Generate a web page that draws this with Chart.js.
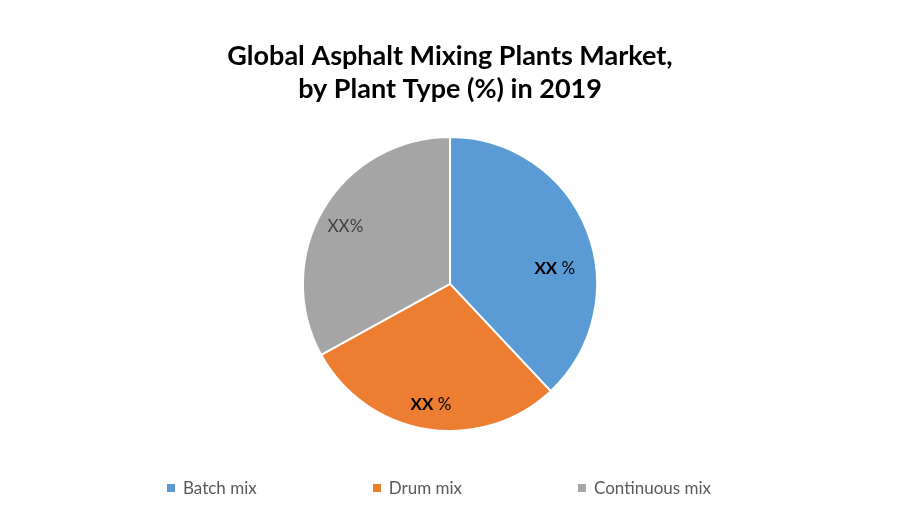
<!DOCTYPE html>
<html>
<head>
<meta charset="utf-8">
<script src="https://cdn.jsdelivr.net/npm/chart.js@4"></script>
<style>
    html, body { margin: 0; padding: 0; background: #ffffff; }
    #wrap { position: relative; width: 900px; height: 525px; }
    #legend {
        position: absolute; left: -11px; top: 477px; width: 900px;
        display: flex; justify-content: center; gap: 116px;
        font-family: Lato, "Liberation Sans", sans-serif; font-size: 17px; color: #595959;
    }
    #legend .item { display: flex; align-items: center; }
    #legend .box { width: 8px; height: 8px; margin-right: 8px; }
</style>
</head>
<body>
<div id="wrap">
    <canvas id="pieChart" width="900" height="525"></canvas>
    <div id="legend"></div>
</div>
<script>
// Chart data
const categories = ['Batch mix', 'Drum mix', 'Continuous mix'];
const shares = [38, 29, 33];
const sliceLabels = ['XX %', 'XX %', 'XX%'];
const sliceColors = ['#5b9bd5', '#ed7d31', '#a5a5a5'];

// Label placement per slice: fraction of radius and angle shift (rad)
const labelStyle = [
    { r: 0.72, shift: 0.235, bold: true, color: '#000000' },
    { r: 0.83, shift: 0.0, bold: true, color: '#000000' },
    { r: 0.81, shift: -0.035, bold: false, color: '#404040' }
];

const fontFamily = 'Lato, "Liberation Sans", sans-serif';

// Draws the "XX %" labels inside slices
const sliceLabelPlugin = {
    id: 'sliceLabels',
    afterDatasetsDraw(chart) {
        const ctx = chart.ctx;
        const arcs = chart.getDatasetMeta(0).data;
        arcs.forEach((arc, i) => {
            const st = labelStyle[i];
            const mid = (arc.startAngle + arc.endAngle) / 2 + st.shift;
            const x = arc.x + Math.cos(mid) * arc.outerRadius * st.r;
            const y = arc.y + Math.sin(mid) * arc.outerRadius * st.r;
            const text = sliceLabels[i];
            ctx.save();
            ctx.textBaseline = 'middle';
            ctx.fillStyle = st.color;
            if (st.bold) {
                // bold "XX", regular " %"
                const parts = text.split(' ');
                ctx.font = 'bold 17px ' + fontFamily;
                const w1 = ctx.measureText(parts[0]).width;
                ctx.font = '17px ' + fontFamily;
                const w2 = ctx.measureText(' ' + parts[1]).width;
                let left = x - (w1 + w2) / 2;
                ctx.textAlign = 'left';
                ctx.font = 'bold 17px ' + fontFamily;
                ctx.fillText(parts[0], left, y);
                ctx.font = '17px ' + fontFamily;
                ctx.fillText(' ' + parts[1], left + w1, y);
            } else {
                ctx.textAlign = 'center';
                ctx.font = '17px ' + fontFamily;
                ctx.fillText(text, x, y);
            }
            ctx.restore();
        });
    }
};

new Chart(document.getElementById('pieChart'), {
    type: 'pie',
    data: {
        labels: categories,
        datasets: [{
            data: shares,
            backgroundColor: sliceColors,
            borderColor: '#ffffff',
            borderWidth: 2
        }]
    },
    options: {
        responsive: false,
        animation: false,
        layout: { padding: { top: 40, bottom: 93, left: 0, right: 0 } },
        plugins: {
            title: {
                display: true,
                text: ['Global Asphalt Mixing Plants Market,', 'by Plant Type (%) in 2019'],
                color: '#000000',
                font: { family: fontFamily, size: 27, weight: 'bold', lineHeight: 1.22 },
                padding: { top: 0, bottom: 30 }
            },
            legend: { display: false },
            tooltip: { enabled: false }
        }
    },
    plugins: [sliceLabelPlugin]
});

// Legend below the pie
const legendDiv = document.getElementById('legend');
categories.forEach((name, i) => {
    const item = document.createElement('div');
    item.className = 'item';
    item.innerHTML = '<span class="box" style="background:' + sliceColors[i] + '"></span>' + name;
    legendDiv.appendChild(item);
});
</script>
</body>
</html>
